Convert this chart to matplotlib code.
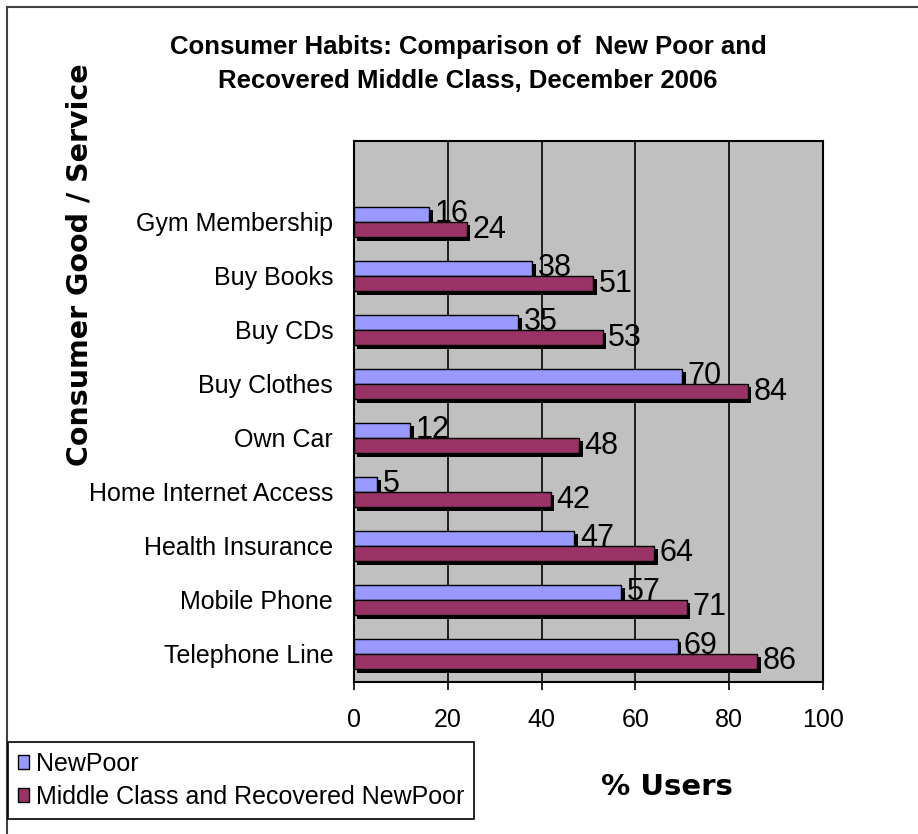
import matplotlib
matplotlib.use("Agg")
import matplotlib.pyplot as plt
import matplotlib.patheffects as pe
from matplotlib.patches import Patch
from matplotlib.lines import Line2D
import numpy as np

categories = ["Telephone Line", "Mobile Phone", "Health Insurance",
              "Home Internet Access", "Own Car", "Buy Clothes",
              "Buy CDs", "Buy Books", "Gym Membership"]
new_poor = [69, 57, 47, 5, 12, 70, 35, 38, 16]
middle_class = [86, 71, 64, 42, 48, 84, 53, 51, 24]
series_names = ["NewPoor", "Middle Class and Recovered NewPoor"]
xticks = [0, 20, 40, 60, 80, 100]

BLUE = "#9999FF"
MAROON = "#993366"
REG = ["Liberation Sans", "DejaVu Sans"]

W, H = 918, 834
fig = plt.figure(figsize=(W / 100, H / 100), dpi=100)
ax = fig.add_axes([354 / W, 1 - 682 / H, (823 - 354) / W, (682 - 141) / H])
ax.set_facecolor("#C0C0C0")

y = np.arange(len(categories))
bh = 0.28
shadow = [pe.SimplePatchShadow(offset=(2.5, -2.5), shadow_rgbFace="k", alpha=1), pe.Normal()]
b1 = ax.barh(y + bh / 2, new_poor, height=bh, color=BLUE, edgecolor="k", lw=1, zorder=3)
b2 = ax.barh(y - bh / 2, middle_class, height=bh, color=MAROON, edgecolor="k", lw=1, zorder=3)
for p in list(b1) + list(b2):
    p.set_path_effects(shadow)

for yi, v in zip(y, new_poor):
    ax.annotate(str(v), (v, yi + bh / 2), xytext=(4, 0), textcoords="offset points",
                ha="left", va="center", fontsize=22, family=REG, zorder=5)
for yi, v in zip(y, middle_class):
    ax.annotate(str(v), (v, yi - bh / 2), xytext=(4, 0), textcoords="offset points",
                ha="left", va="center", fontsize=22, family=REG, zorder=5)

ax.set_xlim(0, 100)
ax.set_ylim(-0.52, 9.5)
ax.set_xticks(xticks)
ax.set_xticklabels([str(t) for t in xticks], family=REG, fontsize=18)
ax.set_yticks(y)
ax.set_yticklabels(categories, family=REG, fontsize=18)
ax.tick_params(axis="y", length=0, pad=15)
ax.tick_params(axis="x", length=6, width=1.2, direction="out", pad=13)
for xv in xticks[1:-1]:
    ax.axvline(xv, color="k", lw=1.2, zorder=1)
for s in ax.spines.values():
    s.set_color("k")
    s.set_linewidth(1.5)

fig.text(468 / W, 1 - 64 / H,
         "Consumer Habits: Comparison of  New Poor and\nRecovered Middle Class, December 2006",
         ha="center", va="center", fontsize=18.5, fontweight="bold", family=REG,
         linespacing=1.55)
fig.text(80 / W, 1 - 265 / H, "Consumer Good / Service", rotation=90,
         ha="center", va="center", fontsize=20.5, fontweight="bold", family="DejaVu Sans")
fig.text(667 / W, 1 - 787 / H, "% Users", ha="center", va="center",
         fontsize=21, fontweight="bold", family="DejaVu Sans")

handles = [Patch(facecolor=BLUE, edgecolor="k"), Patch(facecolor=MAROON, edgecolor="k")]
leg = fig.legend(handles, series_names, loc="upper left",
                 bbox_to_anchor=(8 / W, 1 - 742 / H), borderaxespad=0,
                 frameon=True, fancybox=False, edgecolor="k", framealpha=1,
                 prop={"family": REG, "size": 18}, handlelength=0.45,
                 handleheight=0.45, handletextpad=0.25, labelspacing=0.35,
                 borderpad=0.4)
leg.get_frame().set_linewidth(1.2)

# outer chart border (left and top visible)
fig.add_artist(Line2D([7 / W, 7 / W], [0, 1 - 7 / H], color="#404040", lw=1.5))
fig.add_artist(Line2D([7 / W, 1], [1 - 7 / H, 1 - 7 / H], color="#404040", lw=1.5))

fig.savefig("out.png", dpi=100)
